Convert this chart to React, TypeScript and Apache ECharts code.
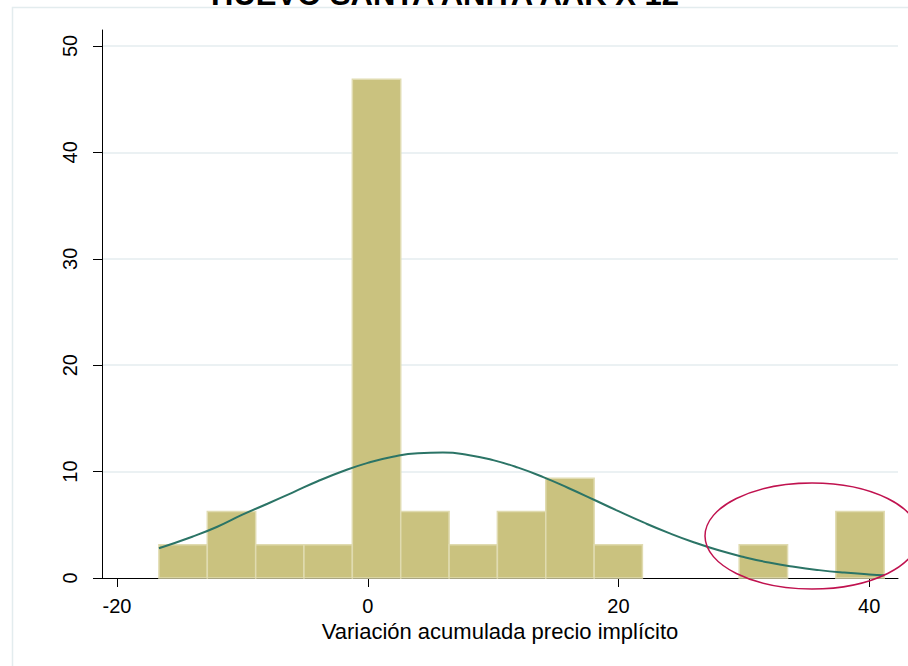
import React, { useEffect, useRef } from "react";
import * as echarts from "echarts";

const TITLE = "HUEVO SANTA ANITA AAK X 12";
const X_NAME = "Variación acumulada precio implícito";

// histogram bin edges (Variación) and bar heights (percent)
const binEdges = [-16.66, -12.8, -8.94, -5.09, -1.23, 2.63, 6.49, 10.34, 14.2, 18.06, 21.91, 25.77, 29.63, 33.49, 37.34, 41.2];
const percents = [3.125, 6.25, 3.125, 3.125, 46.875, 6.25, 3.125, 6.25, 9.375, 3.125, 0, 0, 3.125, 0, 6.25];

// normal density overlay
const curveX = [-16.66, -14, -12, -10, -8, -6, -4, -2, 0, 2, 4, 6, 8, 10, 12, 14, 16, 18, 20, 22, 24, 26, 28, 30, 32, 34, 36, 38, 40, 41.2];
const curveY = [2.8, 3.88, 4.82, 5.95, 6.98, 8.03, 9.09, 10.03, 10.82, 11.4, 11.73, 11.79, 11.57, 11.08, 10.37, 9.48, 8.46, 7.38, 6.28, 5.22, 4.24, 3.36, 2.6, 1.97, 1.45, 1.05, 0.74, 0.51, 0.34, 0.27];

const xTicks = [-20, 0, 20, 40];
const yTicks = [0, 10, 20, 30, 40, 50];
const gridValues = [10, 20, 30, 40, 50];

const FONT = '"Liberation Sans", Arial, Helvetica, sans-serif';

export default function App() {
  const ref = useRef<HTMLDivElement>(null);
  useEffect(() => {
    if (!ref.current) return;
    const chart = echarts.init(ref.current, null, { renderer: "svg" });
    const barData = percents
      .map((p, i) => [binEdges[i], binEdges[i + 1], p])
      .filter((d) => d[2] > 0);
    const option: any = {
      animation: false,
      backgroundColor: "#ffffff",
      textStyle: { fontFamily: FONT },
      grid: { left: 102, right: 10, top: 30, bottom: 88, containLabel: false },
      xAxis: {
        type: "value",
        min: -21.2,
        max: 42.3,
        name: X_NAME,
        nameLocation: "middle",
        nameGap: 42,
        nameTextStyle: { color: "#000", fontSize: 22, fontFamily: FONT, verticalAlign: "top" },
        axisLine: { show: true, onZero: false, lineStyle: { color: "#000", width: 1 } },
        axisTick: { show: true, length: 9, customValues: xTicks, lineStyle: { color: "#000", width: 1 } },
        axisLabel: { show: true, customValues: xTicks, color: "#000", fontSize: 20, margin: 18, fontFamily: FONT },
        splitLine: { show: false },
      },
      yAxis: {
        type: "value",
        min: 0,
        max: 51.5,
        interval: 10,
        axisLine: { show: true, onZero: false, lineStyle: { color: "#000", width: 1 } },
        axisTick: { show: true, length: 9, customValues: yTicks, lineStyle: { color: "#000", width: 1 } },
        axisLabel: { show: true, customValues: yTicks, rotate: 90, color: "#000", fontSize: 20, margin: 22, fontFamily: FONT },
        splitLine: { show: false },
      },
      series: [
        {
          type: "scatter",
          data: [],
          z: 0,
          silent: true,
          markLine: {
            z: 0,
            silent: true,
            symbol: "none",
            label: { show: false },
            lineStyle: { color: "#e4edef", width: 1.5, type: "solid" },
            data: gridValues.map((v) => ({ yAxis: v })),
          },
        },
        {
          type: "custom",
          z: 3,
          data: barData,
          encode: { x: [0, 1], y: 2 },
          renderItem: (params: any, api: any) => {
            const p0 = api.coord([api.value(0), api.value(2)]);
            const p1 = api.coord([api.value(1), 0]);
            return {
              type: "rect",
              shape: { x: p0[0], y: p0[1], width: p1[0] - p0[0], height: p1[1] - p0[1] },
              style: { fill: "#cac27f", stroke: "#e0dbb0", lineWidth: 1.5 },
            };
          },
        },
        {
          type: "line",
          z: 4,
          data: curveX.map((x, i) => [x, curveY[i]]),
          smooth: true,
          showSymbol: false,
          symbol: "none",
          lineStyle: { color: "#2b7466", width: 2 },
        },
      ],
      graphic: [
        {
          type: "rect",
          z: -10,
          silent: true,
          shape: { x: 12.5, y: 7.5, width: 1000, height: 1000 },
          style: { fill: "none", stroke: "#e3ecee", lineWidth: 1.5 },
        },
        {
          type: "text",
          z: 10,
          x: 445,
          y: 10,
          style: {
            text: TITLE,
            fill: "#000",
            font: `bold 31px ${FONT}`,
            textAlign: "center",
            textVerticalAlign: "bottom",
            align: "center",
            verticalAlign: "bottom",
          },
        },
        {
          type: "ellipse",
          z: 20,
          silent: true,
          shape: { cx: 812, cy: 536, rx: 107, ry: 53 },
          style: { fill: "none", stroke: "#c0124f", lineWidth: 1.5 },
        },
      ],
    };
    chart.setOption(option);
    return () => chart.dispose();
  }, []);
  return (
    <div
      ref={ref}
      style={{ position: "absolute", left: 0, top: 0, width: 908, height: 666, background: "#fff" }}
    />
  );
}
